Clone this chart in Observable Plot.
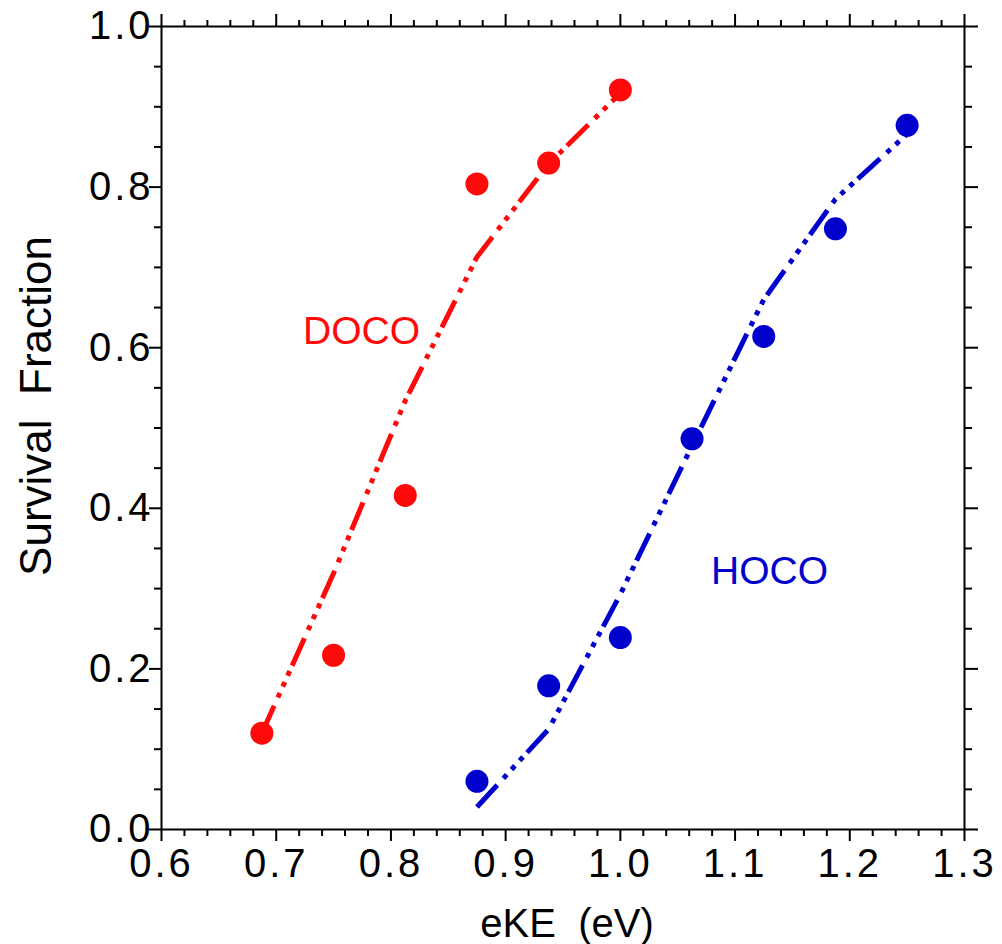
<!DOCTYPE html>
<html><head><meta charset="utf-8">
<script src="https://cdn.jsdelivr.net/npm/d3@7"></script>
<script src="https://cdn.jsdelivr.net/npm/@observablehq/plot@0.6"></script>
<style>
html,body{margin:0;padding:0;background:#fff;}
svg text{white-space:pre;}
g[aria-label="x-axis tick label"] text, g[aria-label="y-axis tick label"] text{letter-spacing:3px;}
</style></head><body><div id="chart"></div>
<script>
// Measured data (DOCO red, HOCO blue)
const docoX = [0.6875, 0.75, 0.8125, 0.875, 0.9375, 1.0];
const docoY = [0.12, 0.217, 0.416, 0.804, 0.830, 0.921];
const docoFitX = [0.6875, 0.75, 0.8125, 0.875, 0.9375, 1.0];
const docoFitY = [0.12, 0.319, 0.534, 0.713, 0.829, 0.917];
const hocoX = [0.875, 0.9375, 1.0, 1.0625, 1.125, 1.1875, 1.25];
const hocoY = [0.06, 0.179, 0.239, 0.4865, 0.614, 0.748, 0.877];
const hocoFitX = [0.875, 0.9375, 1.0, 1.0625, 1.125, 1.1875, 1.25];
const hocoFitY = [0.028, 0.125, 0.293, 0.478, 0.66, 0.785, 0.866];

// Ticks
const xMajor = [0.6, 0.7, 0.8, 0.9, 1.0, 1.1, 1.2, 1.3];
const xMinor = [0.62, 0.64, 0.66, 0.68, 0.72, 0.74, 0.76, 0.78, 0.82, 0.84, 0.86, 0.88,
  0.92, 0.94, 0.96, 0.98, 1.02, 1.04, 1.06, 1.08, 1.12, 1.14, 1.16, 1.18, 1.22, 1.24, 1.26, 1.28];
const yMajor = [0, 0.2, 0.4, 0.6, 0.8, 1.0];
const yMinor = [0.05, 0.1, 0.15, 0.25, 0.3, 0.35, 0.45, 0.5, 0.55, 0.65, 0.7, 0.75, 0.85, 0.9, 0.95];

// Labels
const xTitle = ["eKE  (eV)"];
const yTitle = ["Survival  Fraction"];
const seriesLabels = [
  {name: "DOCO", x: 0.7744, y: 0.605, color: "#ff0a0a"},
  {name: "HOCO", x: 1.130, y: 0.306, color: "#0000cc"}
];

const red = "#ff0a0a", blue = "#0000cc";
const dash = "30,9,5,7,5,7,5,6";

const docoPts = docoX.map((x, i) => ({x, y: docoY[i]}));
const docoFit = docoFitX.map((x, i) => ({x, y: docoFitY[i]}));
const hocoPts = hocoX.map((x, i) => ({x, y: hocoY[i]}));
const hocoFit = hocoFitX.map((x, i) => ({x, y: hocoFitY[i]}));

const blank = () => "";
const chart = Plot.plot({
  width: 1002, height: 944,
  marginLeft: 161, marginRight: 38, marginTop: 26, marginBottom: 115,
  x: {domain: [0.6, 1.3]},
  y: {domain: [0, 1]},
  style: {fontFamily: "'Liberation Sans', Arial, sans-serif", background: "white", color: "black", overflow: "visible"},
  marks: [
    Plot.line(docoFit, {x: "x", y: "y", stroke: red, strokeWidth: 5, strokeDasharray: dash, strokeLinecap: "butt", strokeLinejoin: "round"}),
    Plot.line(hocoFit, {x: "x", y: "y", stroke: blue, strokeWidth: 5, strokeDasharray: dash, strokeLinecap: "butt", strokeLinejoin: "round"}),
    Plot.dot(docoPts, {x: "x", y: "y", r: 11.5, fill: red}),
    Plot.dot(hocoPts, {x: "x", y: "y", r: 11.5, fill: blue}),
    Plot.text(seriesLabels, {x: "x", y: "y", text: "name", fill: "color", fontSize: 39, lineAnchor: "bottom", textAnchor: "middle"}),
    Plot.axisX({ticks: xMinor, anchor: "bottom", tickSize: 7, strokeWidth: 2, tickFormat: blank, label: null}),
    Plot.axisX({ticks: xMajor, anchor: "bottom", tickSize: 12, strokeWidth: 2, tickPadding: 7, fontSize: 40, tickFormat: d3.format(".1f"), label: null}),
    Plot.axisX({ticks: xMinor, anchor: "top", tickSize: 7, strokeWidth: 2, tickFormat: blank, label: null}),
    Plot.axisX({ticks: xMajor, anchor: "top", tickSize: 13, strokeWidth: 2, tickFormat: blank, label: null}),
    Plot.axisY({ticks: yMinor, anchor: "left", tickSize: 7, strokeWidth: 2, tickFormat: blank, label: null}),
    Plot.axisY({ticks: yMajor, anchor: "left", tickSize: 12, strokeWidth: 2, tickPadding: -4, fontSize: 40, tickFormat: d3.format(".1f"), label: null}),
    Plot.axisY({ticks: yMinor, anchor: "right", tickSize: 7, strokeWidth: 2, tickFormat: blank, label: null}),
    Plot.axisY({ticks: yMajor, anchor: "right", tickSize: 13, strokeWidth: 2, tickFormat: blank, label: null}),
    Plot.frame({stroke: "black", strokeWidth: 2}),
    Plot.text(xTitle, {frameAnchor: "bottom", dx: 4, dy: 107, lineAnchor: "bottom", textAnchor: "middle", fontSize: 40, text: d => d, fill: "black"}),
    Plot.text(yTitle, {frameAnchor: "left", dx: -111, dy: -22, rotate: -90, lineAnchor: "bottom", textAnchor: "middle", fontSize: 44, text: d => d, fill: "black"})
  ]
});
document.getElementById("chart").appendChild(chart);
</script></body></html>
